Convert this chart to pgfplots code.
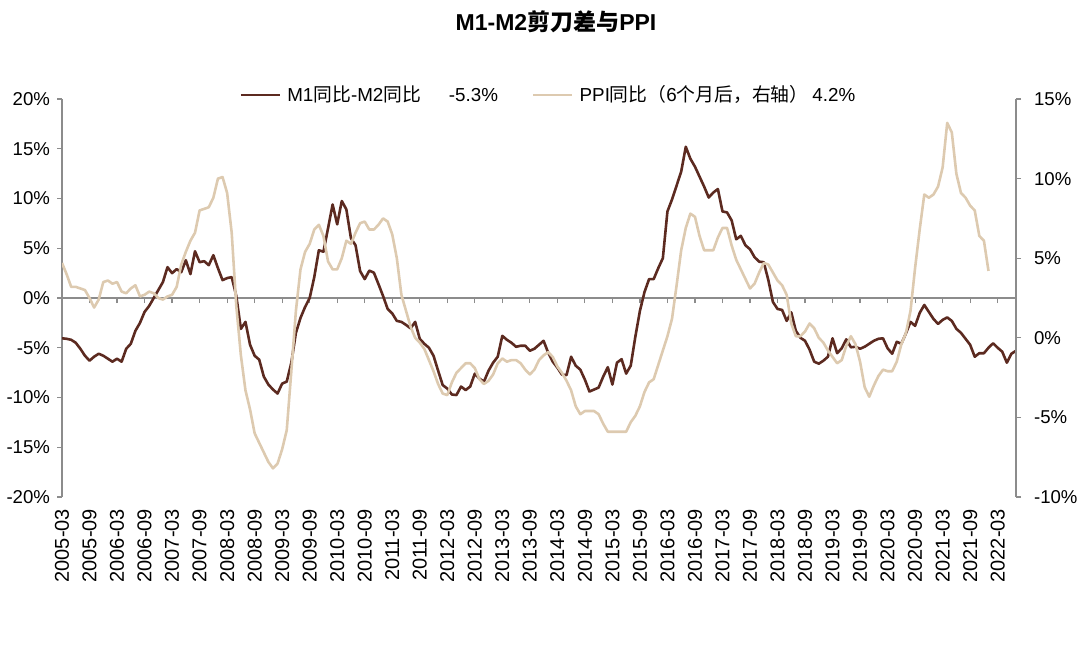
\documentclass[border=0pt]{standalone}
\usepackage{fontspec}
\setmainfont{Liberation Sans}
\newfontfamily\cjk{Noto Sans CJK SC}
\usepackage{pgfplots}
\usepackage{pgfplotstable}
\pgfplotsset{compat=1.18}
\definecolor{brownl}{HTML}{5C2A20}
\definecolor{beigel}{HTML}{DDCAB0}
\definecolor{axgray}{HTML}{8C8C8C}

\pgfplotstableread{
v
-4.05
-4.1
-4.2
-4.5
-5.1
-5.8
-6.3
-5.9
-5.6
-5.8
-6.1
-6.4
-6.1
-6.4
-5.1
-4.6
-3.3
-2.5
-1.4
-0.8
0.0
0.8
1.6
3.1
2.5
2.9
2.6
3.8
2.4
4.7
3.6
3.7
3.3
4.3
3.0
1.8
2.0
2.1
0.2
-3.1
-2.4
-4.7
-5.8
-6.2
-7.9
-8.7
-9.2
-9.6
-8.6
-8.4
-6.5
-3.5
-2.0
-0.9
0.0
2.1
4.8
4.65
7.0
9.4
7.4
9.75
8.9
6.0
5.3
2.7
1.9
2.75
2.55
1.4
0.2
-1.1
-1.55
-2.3
-2.4
-2.7
-3.05
-2.4
-4.1
-4.6
-5.0
-5.8
-7.3
-8.75
-9.1
-9.7
-9.75
-8.9
-9.25
-8.9
-7.6
-8.1
-8.4
-7.3
-6.5
-5.9
-3.8
-4.2
-4.5
-4.9
-4.8
-4.8
-5.3
-5.1
-4.7
-4.3
-5.5
-6.4
-7.0
-7.7
-7.75
-5.9
-6.8
-7.2
-8.2
-9.4
-9.2
-9.0
-7.9
-6.95
-8.7
-6.5
-6.15
-7.6
-6.8
-3.9
-1.3
0.6
1.9
1.9
3.0
4.0
8.7
9.9
11.3
12.7
15.2
14.0
13.2
12.2
11.2
10.1
10.6
10.95
8.7
8.6
7.8
5.9
6.25
5.3
4.9
4.1
3.65
3.6
1.8
-0.4
-1.1
-1.2
-2.3
-1.45
-3.3
-4.0
-4.3
-5.2
-6.4
-6.6
-6.3
-5.9
-4.05
-5.55
-5.05
-4.15
-4.95
-4.9
-5.1
-4.9
-4.6
-4.3
-4.1
-4.05
-5.05
-5.6
-4.4
-4.6
-3.55
-2.4
-2.8
-1.5
-0.7
-1.4
-2.1
-2.6
-2.2
-1.95
-2.3
-3.1
-3.5
-4.1
-4.7
-5.9
-5.55
-5.55
-5.0
-4.55
-5.0
-5.4
-6.5
-5.6
-5.3
}\mdata

\pgfplotstableread{
v
4.7
4.0
3.2
3.2
3.1
3.0
2.5
1.9
2.4
3.5
3.6
3.4
3.5
2.9
2.8
3.1
3.3
2.6
2.7
2.9
2.8
2.5
2.4
2.6
2.7
3.2
4.6
5.4
6.1
6.6
8.0
8.1
8.2
8.8
10.0
10.1
9.1
6.6
2.0
-1.1
-3.3
-4.5
-6.0
-6.6
-7.2
-7.8
-8.2
-7.9
-7.0
-5.8
-2.1
1.7
4.3
5.4
5.9
6.8
7.1
6.4
4.8
4.3
4.3
5.0
6.1
5.9
6.6
7.2
7.3
6.8
6.8
7.1
7.5
7.3
6.5
5.0
2.7
1.7
0.7
0.0
-0.3
-0.7
-1.4
-2.1
-2.9
-3.5
-3.6
-2.8
-2.2
-1.9
-1.6
-1.6
-1.9
-2.6
-2.9
-2.7
-2.3
-1.6
-1.3
-1.5
-1.4
-1.4
-1.6
-2.0
-2.3
-2.0
-1.4
-1.1
-0.9
-1.2
-1.8
-2.2
-2.7
-3.3
-4.3
-4.8
-4.6
-4.6
-4.6
-4.8
-5.4
-5.9
-5.9
-5.9
-5.9
-5.9
-5.3
-4.9
-4.3
-3.4
-2.8
-2.6
-1.7
-0.8
0.1
1.2
3.3
5.5
6.9
7.8
7.6
6.4
5.5
5.5
5.5
6.3
6.9
6.9
5.8
4.9
4.3
3.7
3.1
3.4
4.1
4.7
4.6
4.1
3.6
3.3
2.7
0.9
0.1
0.1
0.4
0.9
0.6
0.0
-0.3
-0.8
-1.2
-1.6
-1.4
-0.5
0.1
-0.4
-1.5
-3.1
-3.7
-3.0
-2.4
-2.0
-2.1
-2.1
-1.5
-0.4
0.3
1.7
4.4
6.8
9.0
8.8
9.0
9.5
10.7
13.5
12.9
10.3
9.1
8.8
8.3
8.0
6.4
6.1
4.2
}\pdata

\pgfplotsset{
  common/.style={
    at={(31pt,76.5pt)}, anchor=south west,
    scale only axis, width=477pt, height=199pt,
    xmin=0, xmax=208,
    tick label style={font=\fontsize{9.3}{11}\selectfont},
  }
}

\begin{document}
\begin{tikzpicture}
\path[use as bounding box] (0,0) rectangle (540pt,325pt);

% zero line with ticks
\begin{axis}[common,
  ymin=-20, ymax=20,
  axis x line*=middle, axis y line=none,
  x axis line style={axgray, line width=0.6pt, -},
  xtick={0,6,...,204}, xticklabels={},
  xtick style={axgray, line width=0.6pt},
  xtick align=outside, major tick length=2.5pt,
]
\end{axis}

% left axis
\begin{axis}[common,
  ymin=-20, ymax=20,
  axis x line*=bottom, axis y line*=left,
  x axis line style={draw=none},
  y axis line style={axgray, line width=0.6pt, -},
  xtick={0,6,...,204},
  xticklabels={2005-03,2005-09,2006-03,2006-09,2007-03,2007-09,2008-03,2008-09,2009-03,2009-09,2010-03,2010-09,2011-03,2011-09,2012-03,2012-09,2013-03,2013-09,2014-03,2014-09,2015-03,2015-09,2016-03,2016-09,2017-03,2017-09,2018-03,2018-09,2019-03,2019-09,2020-03,2020-09,2021-03,2021-09,2022-03},
  xticklabel style={rotate=90, anchor=east, font=\fontsize{10}{12}\selectfont},
  xtick style={draw=none},
  ytick={-20,-15,...,20},
  yticklabels={-20\%,-15\%,-10\%,-5\%,0\%,5\%,10\%,15\%,20\%},
  ytick style={axgray, line width=0.6pt},
  tick align=outside, major tick length=2.5pt,
]
\addplot[brownl, line width=1.3pt, line join=round] table[x expr=\coordindex, y=v] {\mdata};
\end{axis}

% right axis
\begin{axis}[common,
  ymin=-10, ymax=15,
  axis x line=none, axis y line*=right,
  y axis line style={axgray, line width=0.6pt, -},
  ytick={-10,-5,...,15},
  yticklabels={-10\%,-5\%,0\%,5\%,10\%,15\%},
  ytick style={axgray, line width=0.6pt},
  tick align=outside, major tick length=2.5pt,
  yticklabel style={xshift=3pt},
  legend columns=2,
  legend style={draw=none, fill=none, at={(0.511,1.01)}, anchor=center,
    font=\fontsize{9.4}{11}\selectfont,
    /tikz/every even column/.append style={column sep=15pt},
    /tikz/every odd column/.append style={column sep=1pt}},
  legend image code/.code={\draw[#1] (0pt,0pt) -- (19.5pt,0pt);},
]
\addlegendimage{brownl, line width=1.3pt}
\addlegendentry{M1{\cjk 同比}-M2{\cjk 同比}\hspace{14pt}-5.3\%}
\addplot[beigel, line width=1.3pt, line join=round] table[x expr=\coordindex, y=v] {\pdata};
\addlegendentry{PPI{\cjk 同比（}6{\cjk 个月后，右轴）}\hspace{2pt}4.2\%}
\end{axis}

\node[font=\fontsize{11.5}{13}\selectfont\bfseries] at (278pt,314pt) {M1-M2{\cjk\bfseries 剪刀差与}PPI};
\end{tikzpicture}
\end{document}
